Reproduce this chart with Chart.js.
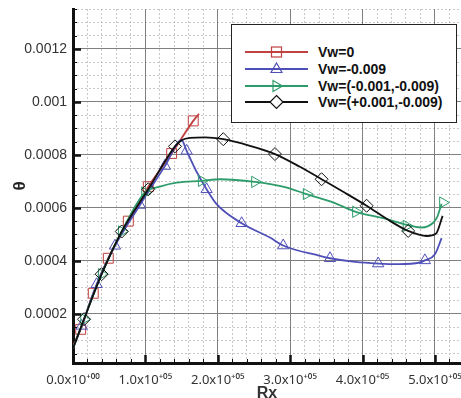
<!DOCTYPE html>
<html>
<head>
<meta charset="utf-8">
<script src="https://cdn.jsdelivr.net/npm/chart.js@4.4.1/dist/chart.umd.min.js"></script>
<style>
  html, body { margin: 0; padding: 0; background: #fff; overflow: hidden; }
  #wrap { position: relative; width: 461px; height: 398px; }
  #legend { position: absolute; left: 231px; top: 24px; width: 226px; height: 99px; background: #fff; border: 1px solid #222; box-sizing: border-box; }
  .row { position: absolute; left: 0; height: 16px; width: 100%; }
  .row svg { position: absolute; left: 13px; top: 0; }
  .row span { position: absolute; left: 86px; top: -1px; font: bold 14px "Liberation Sans", Arial, sans-serif; color: #111; white-space: nowrap; line-height: 18px; }
</style>
</head>
<body>
<div id="wrap">
  <canvas id="c" width="461" height="398"></canvas>
  <div id="legend"></div>
</div>
<script>
// ---------- data ----------
const seriesNames = ['Vw=0', 'Vw=-0.009', 'Vw=(-0.001,-0.009)', 'Vw=(+0.001,-0.009)'];

// Vw=0
const vw0CurveX = [0, 10600, 28000, 48750, 76400, 104000, 136300, 166100, 174000];
const vw0CurveY = [0.00008, 0.000142, 0.000278, 0.00041, 0.00055, 0.00068, 0.000805, 0.000928, 0.000955];
const vw0MarkX  = [10600, 28000, 48750, 76400, 104000, 136300, 166100];
const vw0MarkY  = [0.000142, 0.000278, 0.00041, 0.00055, 0.00068, 0.000805, 0.000928];

// Vw=-0.009
const vwNCurveX = [0, 12000, 32700, 58000, 92500, 127000, 150100, 157000, 170000, 184600, 198400, 233000, 272000, 290400, 341000, 355000, 390000, 421600, 450000, 479000, 486100, 500000, 509200];
const vwNCurveY = [0.00007, 0.000155, 0.000312, 0.000457, 0.000611, 0.000758, 0.000855, 0.000815, 0.00074, 0.00067, 0.000614, 0.000542, 0.000488, 0.000458, 0.000419, 0.00041, 0.000396, 0.00039, 0.000388, 0.000394, 0.000402, 0.000425, 0.000486];
const vwNMarkX  = [12000, 32700, 58000, 92500, 127000, 157000, 184600, 233000, 290400, 355000, 421600, 486100];
const vwNMarkY  = [0.000155, 0.000312, 0.000457, 0.000611, 0.000758, 0.000815, 0.00067, 0.000542, 0.000458, 0.00041, 0.00039, 0.000402];

// Vw=(-0.001,-0.009)
const vwMCurveX = [0, 15200, 39600, 67300, 99400, 120000, 143200, 177700, 203000, 251300, 290000, 322700, 360000, 390800, 430000, 455700, 481600, 497200, 503000, 509200];
const vwMCurveY = [0.00007, 0.00018, 0.00035, 0.000511, 0.000658, 0.00068, 0.000695, 0.000702, 0.000708, 0.000698, 0.00068, 0.000652, 0.00062, 0.000585, 0.00056, 0.00054, 0.000526, 0.000543, 0.000565, 0.000615];
const vwMMarkX  = [15200, 39600, 67300, 99400, 177700, 251300, 322700, 390800, 460700, 511000];
const vwMMarkY  = [0.00018, 0.00035, 0.000511, 0.000658, 0.000702, 0.000698, 0.000652, 0.000585, 0.000532, 0.00062];

// Vw=(+0.001,-0.009)
const vwPCurveX = [0, 15200, 39600, 67300, 104000, 140900, 150100, 161600, 182300, 207600, 244400, 279000, 313500, 343400, 375600, 405600, 437800, 463000, 488500, 501300, 510600];
const vwPCurveY = [0.00007, 0.00018, 0.00035, 0.000511, 0.00067, 0.000832, 0.000855, 0.000864, 0.000866, 0.000859, 0.000834, 0.000803, 0.000755, 0.000708, 0.000657, 0.000608, 0.000551, 0.000513, 0.000494, 0.000502, 0.00057];
const vwPMarkX  = [15200, 39600, 67300, 104000, 140900, 207600, 279000, 343400, 405600, 463000];
const vwPMarkY  = [0.00018, 0.00035, 0.000511, 0.00067, 0.000832, 0.000859, 0.000803, 0.000708, 0.000608, 0.000513];

// axes
const xTickValues = [0, 100000, 200000, 300000, 400000, 500000];
const xTickLabels = ['0.0x10\u207A\u2070\u2070', '1.0x10\u207A\u2070\u2075', '2.0x10\u207A\u2070\u2075', '3.0x10\u207A\u2070\u2075', '4.0x10\u207A\u2070\u2075', '5.0x10\u207A\u2070\u2075'];
const yTickValues = [0.0002, 0.0004, 0.0006, 0.0008, 0.001, 0.0012];
const yTickLabels = ['0.0002', '0.0004', '0.0006', '0.0008', '0.001', '0.0012'];
const xTitle = 'Rx';
const yTitle = 'θ';

// ---------- styling ----------
const X_MIN = 0, X_MAX = 536000, Y_MIN = 0.000015, Y_MAX = 0.00135;
const X_MINOR = 20000, Y_MINOR = 0.00005;
const colors = ['#c0413f', '#4f4fb8', '#2e9c6a', '#111111'];
const markerStyle = [
  { pointStyle: 'rect', radius: 7, rotation: 0 },
  { pointStyle: 'triangle', radius: 6.5, rotation: 0 },
  { pointStyle: 'triangle', radius: 6.5, rotation: 90 },
  { pointStyle: 'rectRot', radius: 6.5, rotation: 0 }
];
const zip = (xs, ys) => xs.map((x, i) => ({ x: x, y: ys[i] }));
const curves = [[vw0CurveX, vw0CurveY], [vwNCurveX, vwNCurveY], [vwMCurveX, vwMCurveY], [vwPCurveX, vwPCurveY]];
const marks = [[vw0MarkX, vw0MarkY], [vwNMarkX, vwNMarkY], [vwMMarkX, vwMMarkY], [vwPMarkX, vwPMarkY]];

const datasets = [];
[0, 1, 2, 3].forEach(i => {
  datasets.push({
    label: seriesNames[i],
    data: zip(curves[i][0], curves[i][1]),
    borderColor: colors[i],
    borderWidth: 1.8,
    pointRadius: 0,
    pointHoverRadius: 0,
    fill: false,
    cubicInterpolationMode: 'monotone',
    order: 10 - i * 2
  });
  datasets.push({
    label: seriesNames[i] + ' markers',
    data: zip(marks[i][0], marks[i][1]),
    showLine: false,
    borderColor: colors[i],
    backgroundColor: 'rgba(0,0,0,0)',
    pointBorderColor: colors[i],
    pointBackgroundColor: 'rgba(255,255,255,0)',
    pointBorderWidth: 1,
    pointStyle: markerStyle[i].pointStyle,
    pointRadius: markerStyle[i].radius,
    pointRotation: markerStyle[i].rotation,
    pointHoverRadius: markerStyle[i].radius,
    order: 9 - i * 2
  });
});

const majorGrid = '#808080';
const minorGrid = '#c8c8c8';
const tickFont = { family: '"Liberation Sans", Arial, sans-serif', size: 14 };
const xTickFont = { family: '"Noto Sans", "DejaVu Sans", sans-serif', size: 13 };
const isMultiple = (v, step) => Math.abs(v / step - Math.round(v / step)) < 1e-6;
const minorValues = (lo, hi, step) => { const out = []; for (let k = Math.ceil(lo / step - 1e-9); k * step <= hi + step * 1e-9; k++) out.push({ value: k * step }); return out; };

const innerTicks = {
  id: 'innerTicks',
  afterDatasetsDraw(chart) {
    const ctx = chart.ctx, a = chart.chartArea;
    const xs = chart.scales.x, ys = chart.scales.y;
    ctx.save();
    ctx.strokeStyle = '#111';
    minorValues(X_MIN, X_MAX, X_MINOR).forEach(t => {
      const px = Math.round(xs.getPixelForValue(t.value)) + 0.5;
      const major = isMultiple(t.value, 100000);
      ctx.lineWidth = major ? 2.5 : 1;
      ctx.beginPath(); ctx.moveTo(px, a.bottom); ctx.lineTo(px, a.bottom - (major ? 8 : 4)); ctx.stroke();
    });
    minorValues(Y_MIN, Y_MAX, Y_MINOR).forEach(t => {
      const py = Math.round(ys.getPixelForValue(t.value)) + 0.5;
      const major = isMultiple(t.value, 0.0002);
      ctx.lineWidth = major ? 2.5 : 1;
      ctx.beginPath(); ctx.moveTo(a.left, py); ctx.lineTo(a.left + (major ? 8 : 4), py); ctx.stroke();
    });
    ctx.restore();
  }
};

const chart = new Chart(document.getElementById('c'), {
  type: 'line',
  data: { datasets: datasets },
  plugins: [innerTicks],
  options: {
    responsive: false,
    animation: false,
    events: [],
    layout: { autoPadding: false, padding: { top: 9, right: 0, left: 0, bottom: 0 } },
    plugins: { legend: { display: false }, tooltip: { enabled: false } },
    scales: {
      xm: {
        type: 'linear', position: 'bottom', min: X_MIN, max: X_MAX,
        afterBuildTicks: s => { s.ticks = minorValues(X_MIN, X_MAX, X_MINOR); },
        ticks: { display: false },
        grid: {
          drawTicks: false,
          color: c => (c.tick && isMultiple(c.tick.value, 100000)) ? 'rgba(0,0,0,0)' : minorGrid,
          lineWidth: 1, dash: [2, 2], borderDash: [2, 2]
        },
        border: { display: false, dash: [2, 2] },
        afterFit: s => { s.height = 0; s.paddingLeft = 0; s.paddingRight = 0; }
      },
      ym: {
        type: 'linear', position: 'left', min: Y_MIN, max: Y_MAX,
        afterBuildTicks: s => { s.ticks = minorValues(Y_MIN, Y_MAX, Y_MINOR); },
        ticks: { display: false },
        grid: {
          drawTicks: false,
          color: c => (c.tick && isMultiple(c.tick.value, 0.0002)) ? 'rgba(0,0,0,0)' : minorGrid,
          lineWidth: 1, dash: [2, 2], borderDash: [2, 2]
        },
        border: { display: false, dash: [2, 2] },
        afterFit: s => { s.width = 0; s.paddingTop = 0; s.paddingBottom = 0; }
      },
      x: {
        type: 'linear', position: 'bottom', min: X_MIN, max: X_MAX,
        afterBuildTicks: s => { s.ticks = xTickValues.map(v => ({ value: v })); },
        ticks: {
          autoSkip: false, maxRotation: 0, minRotation: 0,
          padding: 9, color: '#333', font: xTickFont,
          callback: v => { const i = xTickValues.findIndex(t => Math.abs(t - v) < 1); return i >= 0 ? xTickLabels[i] : ''; }
        },
        grid: { drawTicks: false, color: majorGrid, lineWidth: 1 },
        border: { display: true, color: '#111', width: 3 },
        title: { display: true, text: xTitle, color: '#333', font: { family: '"Liberation Sans", Arial, sans-serif', size: 16, weight: 'bold' }, padding: { top: 0, bottom: -5 } },
        afterFit: s => { s.height = 35; s.paddingLeft = 0; s.paddingRight = 0; }
      },
      y: {
        type: 'linear', position: 'left', min: Y_MIN, max: Y_MAX,
        afterBuildTicks: s => { s.ticks = yTickValues.map(v => ({ value: v })); },
        ticks: {
          autoSkip: false, padding: 6, color: '#333', font: tickFont,
          callback: v => { const i = yTickValues.findIndex(t => Math.abs(t - v) < 1e-9); return i >= 0 ? yTickLabels[i] : ''; }
        },
        grid: { drawTicks: false, color: majorGrid, lineWidth: 1 },
        border: { display: true, color: '#111', width: 3 },
        title: { display: true, text: yTitle, color: '#222', font: { family: '"Liberation Sans", Arial, sans-serif', size: 17, weight: 'bold' }, padding: { top: 10, bottom: 0 } },
        afterFit: s => { s.width = 73; s.paddingTop = 0; s.paddingBottom = 0; }
      }
    }
  }
});

// ---------- HTML legend (line + marker samples) ----------
function markerSvg(i) {
  const c = colors[i], cx = 31.5, cy = 8;
  let shape = '';
  if (i === 0) shape = `<rect x="${cx - 5}" y="${cy - 5}" width="10" height="10" fill="none" stroke="${c}" stroke-width="1.2"/>`;
  if (i === 1) shape = `<polygon points="${cx},${cy - 6} ${cx + 5.5},${cy + 3.5} ${cx - 5.5},${cy + 3.5}" fill="none" stroke="${c}" stroke-width="1.2"/>`;
  if (i === 2) shape = `<polygon points="${cx + 6},${cy} ${cx - 3.5},${cy - 5.5} ${cx - 3.5},${cy + 5.5}" fill="none" stroke="${c}" stroke-width="1.2"/>`;
  if (i === 3) shape = `<polygon points="${cx},${cy - 6.5} ${cx + 6.5},${cy} ${cx},${cy + 6.5} ${cx - 6.5},${cy}" fill="#fff" stroke="${c}" stroke-width="1.2"/>`;
  return `<svg width="64" height="16"><line x1="0" y1="${cy}" x2="63" y2="${cy}" stroke="${c}" stroke-width="2"/>${shape}</svg>`;
}
const legend = document.getElementById('legend');
const rowTops = [19, 36, 53, 69];
seriesNames.forEach((name, i) => {
  const row = document.createElement('div');
  row.className = 'row';
  row.style.top = rowTops[i] + 'px';
  row.innerHTML = markerSvg(i) + '<span>' + name + '</span>';
  legend.appendChild(row);
});
</script>
</body>
</html>
